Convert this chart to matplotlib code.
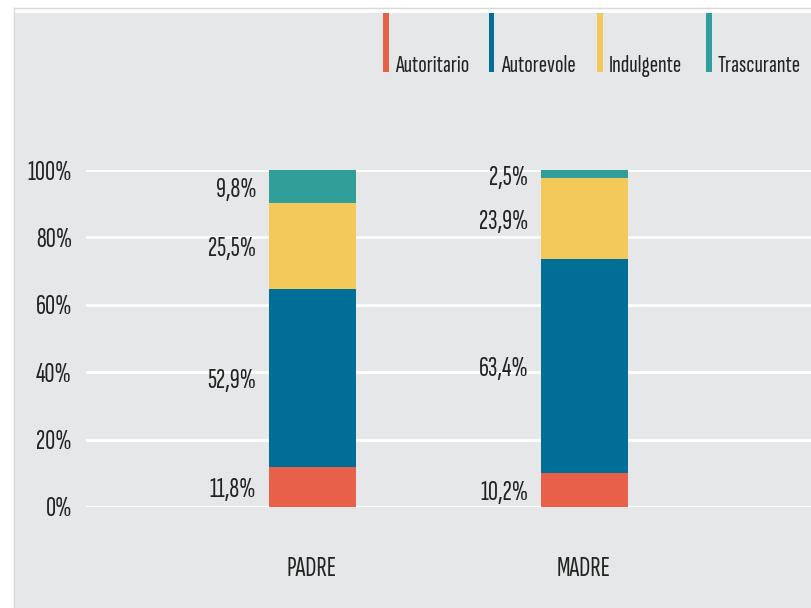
import matplotlib
matplotlib.use("Agg")
import matplotlib.pyplot as plt
from matplotlib.patches import Rectangle
from matplotlib.lines import Line2D

plt.rcParams['font.family'] = ['Sofia Sans Extra Condensed', 'DejaVu Sans']
plt.rcParams['font.weight'] = 'medium'

groups = ["PADRE", "MADRE"]
styles = ["Autoritario", "Autorevole", "Indulgente", "Trascurante"]
autoritario = [11.8, 10.2]
autorevole = [52.9, 63.4]
indulgente = [25.5, 23.9]
trascurante = [9.8, 2.5]
yticks = [0, 20, 40, 60, 80, 100]

colors = ["#e8604a", "#006e96", "#f3c95a", "#329e9a"]
bg = "#e6e7e8"
txt = "#222222"

W, H = 811, 608
fig = plt.figure(figsize=(W / 100, H / 100), dpi=100)
fig.patch.set_facecolor("white")

# grey panel
fig.patches.append(Rectangle((14 / W, 0), 1, (H - 13) / H, transform=fig.transFigure,
                             facecolor=bg, edgecolor="none", zorder=-5))
fig.lines.append(Line2D([14 / W, 1], [1 - 8 / H, 1 - 8 / H], transform=fig.transFigure,
                        color="#d9d9d9", lw=1, zorder=-4))
fig.lines.append(Line2D([14 / W, 14 / W], [0, 1 - 8 / H], transform=fig.transFigure,
                        color="#d9d9d9", lw=1, zorder=-4))

ax = fig.add_axes([86 / W, (H - 507) / H, 1 - 86 / W, (507 - 170) / H])
ax.set_facecolor("none")
for s in ax.spines.values():
    s.set_visible(False)

x = list(range(len(groups)))
bw = 87 / 272
series = [autoritario, autorevole, indulgente, trascurante]
bottom = [0.0] * len(groups)
for vals, c in zip(series, colors):
    ax.bar(x, vals, bw, bottom=bottom, color=c, zorder=3)
    for i, v in enumerate(vals):
        ax.text(x[i] - bw / 2 - 0.045, bottom[i] + v / 2 - 1.0, ("%.1f%%" % v).replace(".", ","),
                ha="right", va="center", fontsize=20, color=txt, clip_on=False)
    bottom = [b + v for b, v in zip(bottom, vals)]

ax.set_xlim(-(312 - 86) / 272, (811 - 312) / 272)
ax.set_ylim(0, 100)
ax.set_yticks(yticks)
ax.set_yticklabels(["%d%%" % t for t in yticks], fontsize=20, color=txt)
ax.yaxis.grid(True, color="white", lw=2, zorder=1)
ax.set_xticks(x)
ax.set_xticklabels(groups, fontsize=20, color=txt)
ax.tick_params(axis="both", length=0)
ax.tick_params(axis="y", pad=10)
ax.tick_params(axis="x", pad=36)

# legend
leg_x = [383, 489, 597, 706]
for lx, c, name in zip(leg_x, colors, styles):
    fig.patches.append(Rectangle((lx / W, 1 - 72 / H), 5.5 / W, 59 / H,
                                 transform=fig.transFigure, facecolor=c, edgecolor="none"))
    fig.text((lx + 12) / W, 1 - 72 / H, name, ha="left", va="baseline",
             fontsize=18, color=txt)

fig.savefig("out.png", dpi=100, facecolor=fig.get_facecolor())
